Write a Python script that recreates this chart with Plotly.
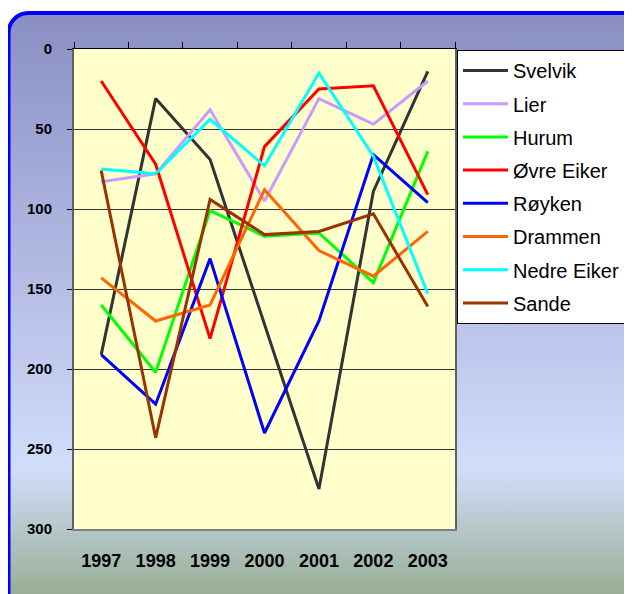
import base64
import plotly.graph_objects as go

years = ["1997", "1998", "1999", "2000", "2001", "2002", "2003"]

svelvik = [191, 31, 69, 172, 275, 89, 14]
lier = [83, 78, 38, 95, 31, 47, 20]
hurum = [160, 202, 101, 117, 115, 146, 64]
ovre_eiker = [20, 72, 181, 61, 25, 23, 91]
royken = [191, 222, 131, 240, 170, 66, 96]
drammen = [143, 170, 160, 88, 126, 142, 114]
nedre_eiker = [75, 78, 44, 73, 15, 67, 153]
sande = [76, 243, 94, 116, 114, 103, 161]

series = [
    ("Svelvik", svelvik, "#333333"),
    ("Lier", lier, "#CC99FF"),
    ("Hurum", hurum, "#00FF00"),
    ("Øvre Eiker", ovre_eiker, "#FF0000"),
    ("Røyken", royken, "#0000FF"),
    ("Drammen", drammen, "#FF6600"),
    ("Nedre Eiker", nedre_eiker, "#00FFFF"),
    ("Sande", sande, "#993300"),
]

# page is shown with the default 8px body margin
OFF = 8
W, H = 632 - OFF, 594 - OFF


def fx(px):
    return (px - OFF) / W


def fy(py):
    return 1 - (py - OFF) / H


FONT = "Liberation Sans, Arial, sans-serif"

fig = go.Figure()
for name, vals, col in series:
    fig.add_trace(go.Scatter(
        x=years, y=vals, name=name, mode="lines", legendgroup=name,
        line=dict(color=col, width=3),
    ))

svg = (
    f"<svg xmlns='http://www.w3.org/2000/svg' width='{W}' height='{H}' viewBox='0 0 {W} {H}'>"
    "<defs><linearGradient id='g' x1='0' y1='0' x2='0' y2='1'>"
    "<stop offset='0' stop-color='#8A8EC4'/>"
    "<stop offset='0.76' stop-color='#D2DDFB'/>"
    "<stop offset='0.96' stop-color='#9AB098'/>"
    "<stop offset='1' stop-color='#98AE94'/>"
    "</linearGradient></defs>"
    "<rect x='0.5' y='5' width='640' height='600' rx='20' ry='20' fill='url(#g)' "
    "stroke='#0000FF' stroke-width='4'/></svg>"
)
src = "data:image/svg+xml;base64," + base64.b64encode(svg.encode()).decode()

n = len(years)
boundaries = [i - 0.5 for i in range(n + 1)]

fig.update_layout(
    template="none",
    width=W, height=H,
    margin=dict(l=0, r=0, t=0, b=0),
    paper_bgcolor="white",
    plot_bgcolor="#FFFFCC",
    font=dict(family=FONT, color="black"),
    images=[dict(source=src, xref="paper", yref="paper", x=0, y=1, sizex=1, sizey=1,
                 sizing="stretch", xanchor="left", yanchor="top", layer="below")],
    shapes=[dict(type="rect", xref="x domain", yref="y domain", x0=0, x1=1, y0=0, y1=1,
                 fillcolor="#FFFFCC", line=dict(width=0), layer="below")],
    xaxis=dict(
        domain=[fx(74), fx(455)], type="category", range=[-0.5, n - 0.5],
        showline=True, linecolor="#808080", linewidth=2,
        ticks="", showgrid=False, zeroline=False, automargin=False,
        tickfont=dict(size=18, family=FONT, weight="bold"),
        ticklabelstandoff=14,
    ),
    xaxis2=dict(
        overlaying="x", side="top", anchor="y", range=[-0.5, n - 0.5],
        tickmode="array", tickvals=boundaries, showticklabels=False,
        ticks="outside", ticklen=6, tickcolor="black", tickwidth=1,
        showline=True, linecolor="black", linewidth=1,
        showgrid=False, zeroline=False, automargin=False,
    ),
    yaxis=dict(
        domain=[fy(529), fy(49)], range=[300, 0], dtick=50, tick0=0,
        showline=True, linecolor="#606060", linewidth=2, mirror=True,
        ticks="outside", ticklen=5, tickcolor="black",
        showgrid=True, gridcolor="#333333", gridwidth=1, zeroline=False,
        automargin=False,
        tickfont=dict(size=15, family=FONT, weight="bold"),
        ticklabelstandoff=12,
    ),
    legend=dict(
        x=fx(457), y=fy(50), xanchor="left", yanchor="top",
        xref="paper", yref="paper",
        bgcolor="white", bordercolor="black", borderwidth=1,
        font=dict(size=20, family=FONT),
        tracegroupgap=4.2, itemwidth=45,
    ),
)
# invisible trace so the top (tick-only) axis is drawn
fig.add_trace(go.Scatter(x=[0], y=[None], xaxis="x2", showlegend=False, hoverinfo="skip"))

fig.write_html("out.html")
